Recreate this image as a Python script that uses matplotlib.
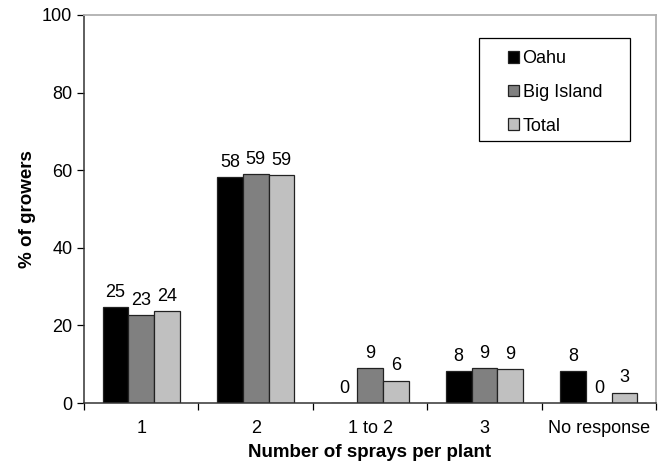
import numpy as np
import matplotlib
matplotlib.use('Agg')
import matplotlib.pyplot as plt
from matplotlib.patches import Rectangle
from matplotlib.ticker import FixedLocator, NullFormatter

plt.rcParams['font.family'] = ['Liberation Sans', 'DejaVu Sans']

# data
categories = ['1', '2', '1 to 2', '3', 'No response']
oahu = [24.7, 58.3, 0.0, 8.3, 8.3]
big_island = [22.6, 59.0, 9.0, 9.0, 0.0]
total = [23.6, 58.8, 5.8, 8.7, 2.7]
series_names = ['Oahu', 'Big Island', 'Total']
colors = ['#000000', '#808080', '#c0c0c0']

fig = plt.figure(figsize=(6.62, 4.66), dpi=100)
ax = fig.add_axes([0.127, 0.135, 0.864, 0.833])

x = np.arange(len(categories))
w = 0.225
for i, (vals, name, c) in enumerate(zip([oahu, big_island, total], series_names, colors)):
    pos = x + (i - 1) * w
    ax.bar(pos, vals, width=w, color=c, edgecolor='#222222', linewidth=0.9, label=name)
    for xp, v in zip(pos, vals):
        ax.annotate('%.0f' % v, (xp, v), xytext=(0, 4.5), textcoords='offset points',
                    ha='center', va='bottom', fontsize=13)

ax.set_xlim(-0.5, len(categories) - 0.5)
ax.set_ylim(0, 100)
ax.set_yticks([0, 20, 40, 60, 80, 100])
ax.tick_params(axis='y', labelsize=13, length=5, width=0.9, direction='out')
ax.set_xticks(x)
ax.set_xticklabels(categories, fontsize=13)
ax.tick_params(axis='x', which='major', length=0, pad=12)
ax.xaxis.set_minor_locator(FixedLocator(np.arange(-0.5, len(categories), 1.0)))
ax.xaxis.set_minor_formatter(NullFormatter())
ax.tick_params(axis='x', which='minor', length=5, width=0.9, direction='out')

ax.spines['left'].set_color('#333333')
ax.spines['bottom'].set_color('#333333')
ax.spines['left'].set_linewidth(1.1)
ax.spines['bottom'].set_linewidth(1.1)
ax.spines['top'].set_color('#b0b0b0')
ax.spines['right'].set_color('#b0b0b0')
ax.spines['top'].set_linewidth(1.3)
ax.spines['right'].set_linewidth(1.3)

ax.set_xlabel('Number of sprays per plant', fontsize=13.5, fontweight='bold', labelpad=5)
ax.set_ylabel('% of growers', fontsize=13.5, fontweight='bold', labelpad=4)

# legend entries without frame, box drawn separately (wide left margin like the original)
leg = fig.legend(loc='upper left', bbox_to_anchor=(0.767, 0.892), fontsize=13,
                 frameon=False, handlelength=0.62, handleheight=0.62, handletextpad=0.2,
                 labelspacing=0.92, borderpad=0, borderaxespad=0)
for h in leg.legend_handles:
    h.set_linewidth(0.9)
fig.patches.append(Rectangle((0.7236, 0.6974), 0.228, 0.221, transform=fig.transFigure,
                             facecolor='none', edgecolor='#000000', linewidth=0.9))

fig.savefig('out.png', dpi=100)
